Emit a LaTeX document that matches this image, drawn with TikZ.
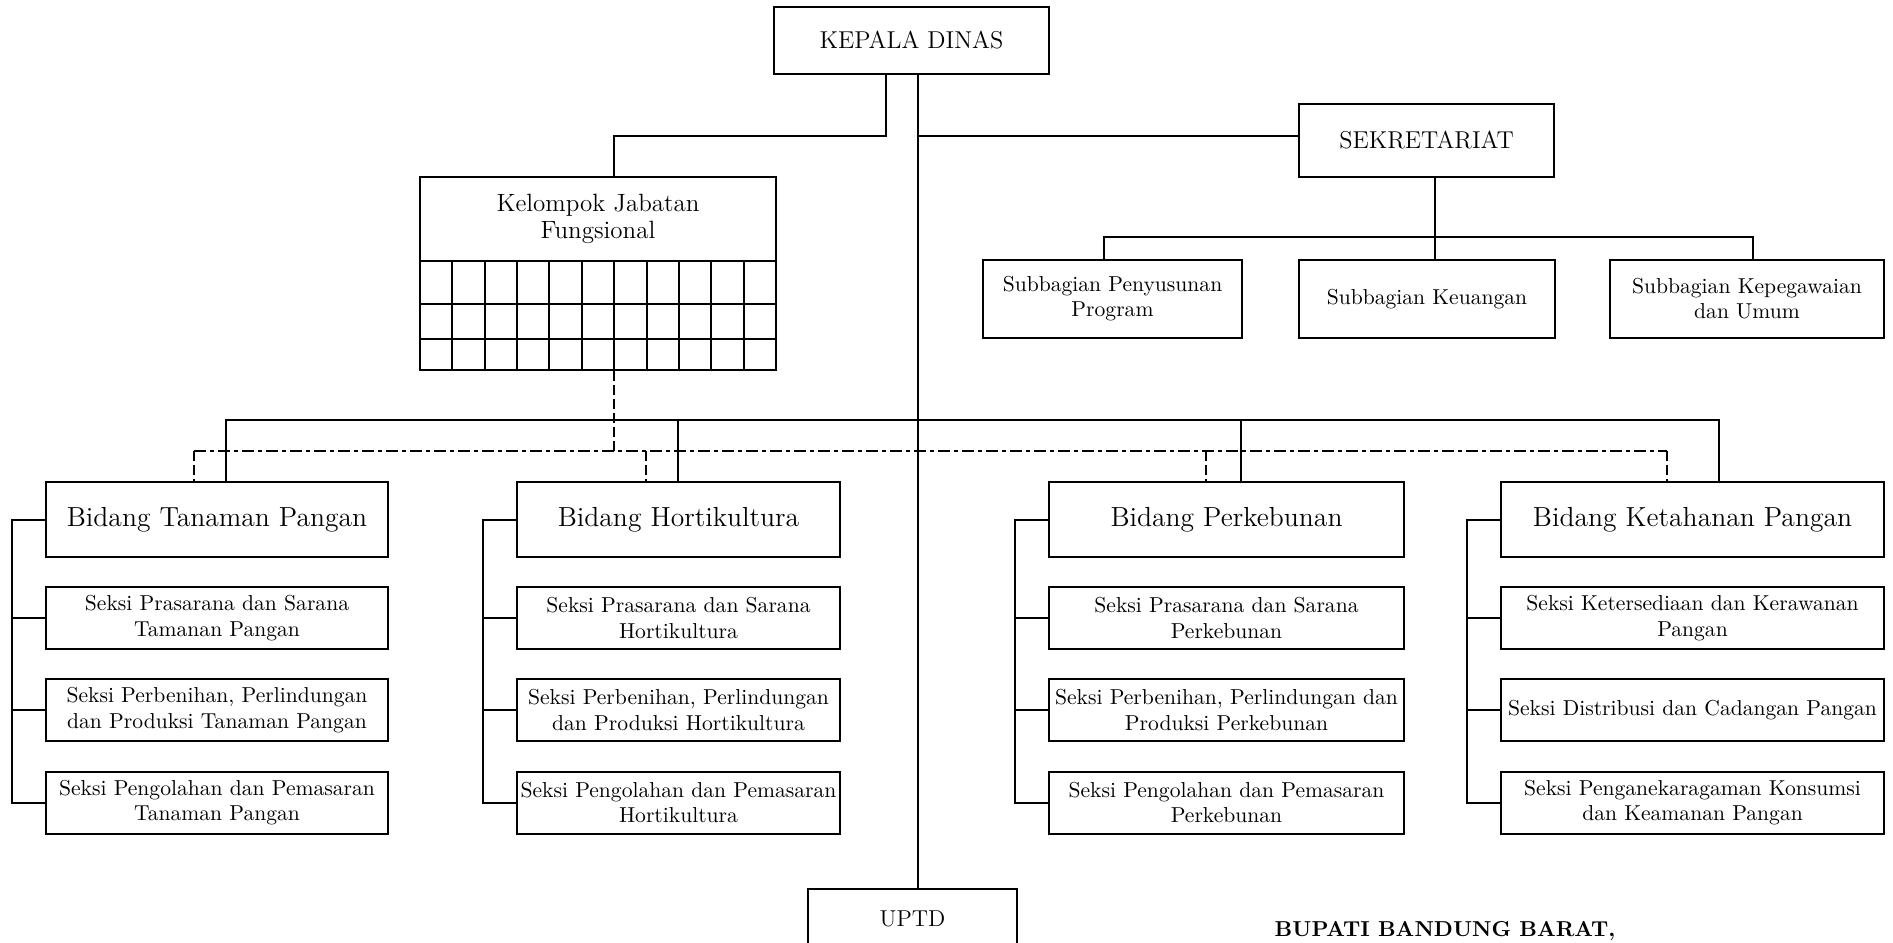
\documentclass[tikz,border=0pt]{standalone}
\usepackage{tikz}

\begin{document}
\begin{tikzpicture}[x=0.5pt,y=-0.5pt,line width=1pt,
    box/.style={draw,inner sep=0pt,align=center},
    kepala/.style={box,font=\fontsize{12.2}{14}\selectfont},
    bidang/.style={box,minimum height=37.5pt,font=\fontsize{13.8}{16}\selectfont},
    seksi/.style={box,minimum height=31pt,font=\fontsize{10.8}{12.8}\selectfont},
    subbag/.style={box,minimum height=39pt,font=\fontsize{10.8}{12.5}\selectfont},
    fungdash/.style={dash pattern=on 5pt off 2pt},
    fungdot/.style={dash pattern=on 6pt off 2pt on 2pt off 2pt}]
      \useasboundingbox (0,0) rectangle (1893,942);
      \clip (0,0) rectangle (1893,942);

       % kepala dinas
      \node[kepala,minimum width=137.5pt,minimum height=33.5pt] (kd) at (911.5,40.5) {KEPALA DINAS};

       % sekretariat
      \node[kepala,minimum width=127.5pt,minimum height=36.5pt] (sek) at (1426.5,140.5) {SEKRETARIAT};
      \node[subbag,minimum width=129.5pt] (sub1) at (1112.5,299) {Subbagian Penyusunan\\Program};
      \node[subbag,minimum width=128pt] (sub2) at (1427,299) {Subbagian Keuangan};
      \node[subbag,minimum width=137pt] (sub3) at (1747,299) {Subbagian Kepegawaian\\dan Umum};

       % kelompok jabatan fungsional
      \node[draw,inner sep=0pt,minimum width=178pt,minimum height=96.5pt] (kjf) at (598,273.5) {};
      \node[align=center,font=\fontsize{12.5}{13.7}\selectfont] (kjft) at (598,219) {Kelompok Jabatan\\Fungsional};
      \foreach \y in {261,304,339} \draw (420,\y) -- (776,\y);
      \foreach \i in {1,...,10} \draw ({420+\i*32.36},261) -- ({420+\i*32.36},370);

       % bidang tanaman pangan
      \node[bidang,minimum width=171pt] (bt) at (217,519.5) {Bidang Tanaman Pangan};
      \node[seksi,minimum width=171pt] (bt1) at (217,618) {Seksi Prasarana dan Sarana\\Tamanan Pangan};
      \node[seksi,minimum width=171pt] (bt2) at (217,710) {Seksi Perbenihan, Perlindungan\\dan Produksi Tanaman Pangan};
      \node[seksi,minimum width=171pt] (bt3) at (217,802.5) {Seksi Pengolahan dan Pemasaran\\Tanaman Pangan};

       % bidang hortikultura
      \node[bidang,minimum width=161.5pt] (bh) at (678.5,519.5) {Bidang Hortikultura};
      \node[seksi,minimum width=161.5pt] (bh1) at (678.5,618) {Seksi Prasarana dan Sarana\\Hortikultura};
      \node[seksi,minimum width=161.5pt] (bh2) at (678.5,710) {Seksi Perbenihan, Perlindungan\\dan Produksi Hortikultura};
      \node[seksi,minimum width=161.5pt] (bh3) at (678.5,802.5) {Seksi Pengolahan dan Pemasaran\\Hortikultura};

       % bidang perkebunan
      \node[bidang,minimum width=177.5pt] (bp) at (1226.5,519.5) {Bidang Perkebunan};
      \node[seksi,minimum width=177.5pt] (bp1) at (1226.5,618) {Seksi Prasarana dan Sarana\\Perkebunan};
      \node[seksi,minimum width=177.5pt] (bp2) at (1226.5,710) {Seksi Perbenihan, Perlindungan dan\\Produksi Perkebunan};
      \node[seksi,minimum width=177.5pt] (bp3) at (1226.5,802.5) {Seksi Pengolahan dan Pemasaran\\Perkebunan};

       % bidang ketahanan pangan
      \node[bidang,minimum width=191.5pt] (bk) at (1692.5,519.5) {Bidang Ketahanan Pangan};
      \node[seksi,minimum width=191.5pt] (bk1) at (1692.5,618) {Seksi Ketersediaan dan Kerawanan\\Pangan};
      \node[seksi,minimum width=191.5pt] (bk2) at (1692.5,710) {Seksi Distribusi dan Cadangan Pangan};
      \node[seksi,minimum width=191.5pt] (bk3) at (1692.5,802.5) {Seksi Penganekaragaman Konsumsi\\dan Keamanan Pangan};

       % uptd
      \node[kepala,font=\fontsize{11.5}{14}\selectfont,minimum width=104.5pt,minimum height=30pt] (uptd) at (912.5,919) {UPTD};
      \node[anchor=base,font=\fontsize{10.8}{13}\bfseries] (bup) at (1445,936) {BUPATI BANDUNG BARAT,};

       % garis komando
      \coordinate (j1) at (886,136);
      \coordinate (j2) at (614,136);
      \coordinate (tr) at (918,136);
      \draw (j1 |- kd.south) -- (j1) -- (j2) -- (j2 |- kjf.north);
      \draw (tr |- kd.south) -- (tr |- uptd.north);
      \draw (tr) -- (tr -| sek.west);

      \coordinate (s1) at (1104,237);
      \coordinate (s2) at (1435,237);
      \coordinate (s3) at (1753,237);
      \draw (s2 |- sek.south) -- (s2 |- sub2.north);
      \draw (s1 |- sub1.north) -- (s1) -- (s3) -- (s3 |- sub3.north);

      \coordinate (h1) at (225.5,420);
      \coordinate (h2) at (677.5,420);
      \coordinate (h3) at (1241,420);
      \coordinate (h4) at (1718.5,420);
      \draw (h1 |- bt.north) -- (h1) -- (h4) -- (h4 |- bk.north);
      \draw (h2) -- (h2 |- bh.north);
      \draw (h3) -- (h3 |- bp.north);

       % garis koordinasi
      \coordinate (d0) at (614,451);
      \coordinate (d1) at (194,451);
      \coordinate (d2) at (646,451);
      \coordinate (d3) at (1206,451);
      \coordinate (d4) at (1667,451);
      \draw[fungdot] (d1) -- (d4);
      \draw[fungdash] (kjf.south -| d0) -- (d0);
      \foreach \c/\bd in {d1/bt,d2/bh,d3/bp,d4/bk} \draw[fungdash] (\c) -- (\c |- \bd.north);

       % seksi
      \foreach \bd in {bt,bh,bp,bk} {
        \draw (\bd.west) -- ++(-33,0) |- (\bd3.west);
        \draw (\bd1.west) -- ++(-33,0);
        \draw (\bd2.west) -- ++(-33,0);
      }
    \end{tikzpicture}
\end{document}
